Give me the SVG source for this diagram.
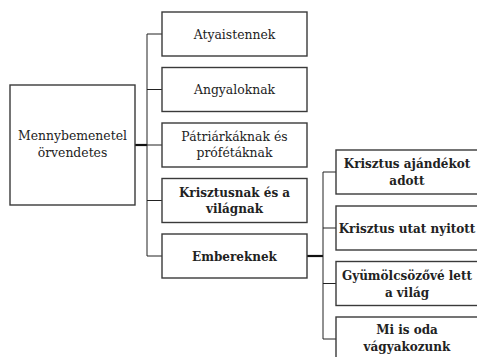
<svg xmlns="http://www.w3.org/2000/svg" width="477" height="357" viewBox="0 0 477 357">
<style>
.box{fill:#fff;stroke:#3a3a3a;stroke-width:1.4}
.t{font-family:'DejaVu Serif',serif;font-size:12.4px;fill:#222;text-anchor:middle}
.b{font-weight:bold;font-size:12px}
.c{fill:none;stroke:#222;stroke-width:1}
.ct{fill:none;stroke:#111;stroke-width:2.2}
</style>
<rect width="477" height="357" fill="#fff"/>
<g id="connectors">
<path class="ct" d="M135 145H147"/>
<path class="c" d="M147 34V256M147 34H162M147 89.5H162M147 145H162M147 200.5H162M147 256H162"/>
<path class="ct" d="M307 256H323"/>
<path class="c" d="M323 172V339M323 172H336M323 228H336M323 283.5H336M323 339H336"/>
</g>
<g id="root">
<rect class="box" x="10" y="85" width="125" height="120"/>
<text class="t" x="72.5" y="140">Mennybemenetel</text>
<text class="t" x="72.5" y="156.5">örvendetes</text>
</g>
<g id="n1">
<rect class="box" x="162" y="12" width="145" height="44"/>
<text class="t" x="234.5" y="38.5">Atyaistennek</text>
</g>
<g id="n2">
<rect class="box" x="162" y="67.5" width="145" height="44"/>
<text class="t" x="234.5" y="94">Angyaloknak</text>
</g>
<g id="n3">
<rect class="box" x="162" y="123" width="145" height="44"/>
<text class="t" x="234.5" y="141">Pátriárkáknak és</text>
<text class="t" x="234.5" y="157">prófétáknak</text>
</g>
<g id="n4">
<rect class="box" x="162" y="178.5" width="145" height="44"/>
<text class="t b" x="234.5" y="196.5">Krisztusnak és a</text>
<text class="t b" x="234.5" y="213">világnak</text>
</g>
<g id="n5">
<rect class="box" x="162" y="234" width="145" height="44"/>
<text class="t b" x="234.5" y="261">Embereknek</text>
</g>
<g id="r1">
<rect class="box" x="336" y="150" width="145" height="44"/>
<text class="t b" x="407" y="168">Krisztus ajándékot</text>
<text class="t b" x="407" y="184.5">adott</text>
</g>
<g id="r2">
<rect class="box" x="336" y="206" width="145" height="44"/>
<text class="t b" x="407" y="233">Krisztus utat nyitott</text>
</g>
<g id="r3">
<rect class="box" x="336" y="261.5" width="145" height="44"/>
<text class="t b" x="407" y="280">Gyümölcsözővé lett</text>
<text class="t b" x="407" y="296.5">a világ</text>
</g>
<g id="r4">
<rect class="box" x="336" y="317" width="145" height="44"/>
<text class="t b" x="407" y="334">Mi is oda</text>
<text class="t b" x="407" y="350.5">vágyakozunk</text>
</g>
</svg>
